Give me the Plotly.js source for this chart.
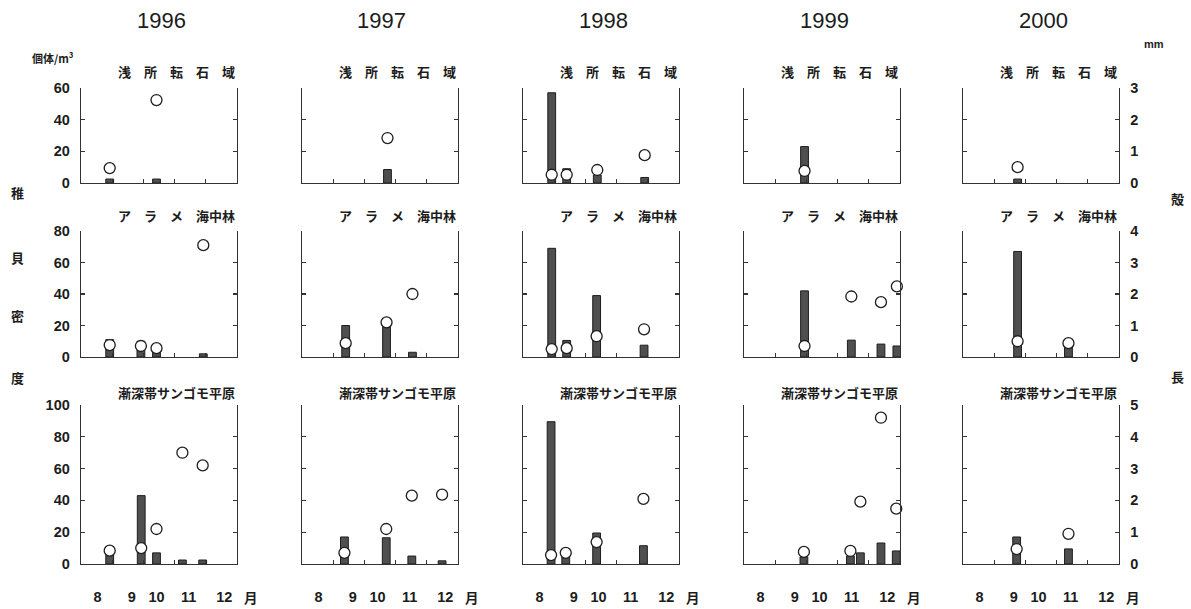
<!DOCTYPE html>
<html>
<head>
<meta charset="utf-8">
<script src="https://cdn.plot.ly/plotly-3.0.1.min.js"></script>
<style>
html,body{margin:0;padding:0;background:#fff;}
#chart{width:1191px;height:609px;}
</style>
</head>
<body>
<div id="chart"></div>
<script>
// ---------- data ----------
const years = ['1996', '1997', '1998', '1999', '2000'];
const habitats = ['浅　所　転　石　域', 'ア　ラ　メ　海中林', '漸深帯サンゴモ平原'];
const densityTicks = [[0, 20, 40, 60], [0, 20, 40, 60, 80], [0, 20, 40, 60, 80, 100]];
const lengthTicks = [[0, 1, 2, 3], [0, 1, 2, 3, 4], [0, 1, 2, 3, 4, 5]];
const monthLabels = ['8', '9', '10', '11', '12'];
const monthLabelPos = [8.53, 9.63, 10.42, 11.45, 12.59];
const monthBounds = [9, 10, 11, 12];
const monthUnit = '月';
const densityUnit = '個体/m³';
const lengthUnit = 'mm';
const leftTitleChars = ['稚', '貝', '密', '度'];
const rightTitleChars = ['殻', '長'];

// sampling dates (month + fraction), juvenile density (ind./m³), shell length (mm)
// each array: [浅所転石域, アラメ海中林, 漸深帯サンゴモ平原]
const date1996 = [[8.92, 10.42], [8.92, 9.92, 10.42, 11.92], [8.92, 9.93, 10.42, 11.25, 11.9]];
const dens1996 = [[2.5, 2.5], [11, 10, 3, 2], [6, 43, 7, 2.5, 2.5]];
const len1996 = [[0.47, 2.62], [0.38, 0.35, 0.28, 3.55], [0.42, 0.5, 1.1, 3.5, 3.1]];

const date1997 = [[10.74], [9.40, 10.71, 11.54], [9.36, 10.70, 11.52, 12.49]];
const dens1997 = [[8.5], [20, 19.5, 3], [17, 16.5, 5, 2]];
const len1997 = [[1.42], [0.44, 1.1, 2.0], [0.35, 1.1, 2.15, 2.18]];

const date1998 = [[8.92, 9.40, 10.38, 11.9], [8.92, 9.40, 10.36, 11.88], [8.9, 9.37, 10.36, 11.86]];
const dens1998 = [[57, 9, 5, 3.5], [69, 10.5, 39, 7.5], [89.5, 4.5, 19.5, 11.5]];
const len1998 = [[0.26, 0.26, 0.41, 0.88], [0.25, 0.28, 0.66, 0.88], [0.28, 0.35, 0.69, 2.05]];

const date1999 = [[9.94], [9.94, 11.44, 12.39, 12.9], [9.92, 11.41, 11.73, 12.39, 12.88]];
const dens1999 = [[23], [42, 10.7, 8.2, 7], [4.4, 5, 7, 13.2, 8.2]];
const len1999 = [[0.38], [0.35, 1.92, 1.74, 2.24], [0.38, 0.41, 1.96, 4.6, 1.74]];

const date2000 = [[9.75], [9.75, 11.38], [9.72, 11.38]];
const dens2000 = [[2.5], [67, 6.3], [17, 9.5]];
const len2000 = [[0.5], [0.5, 0.44], [0.47, 0.95]];

const allDates = [date1996, date1997, date1998, date1999, date2000];
const allDens = [dens1996, dens1997, dens1998, dens1999, dens2000];
const allLen = [len1996, len1997, len1998, len1999, len2000];

// ---------- layout geometry ----------
const W = 1191, H = 609;
const colLeft = [81, 302, 523, 744, 963];
const panelW = 156;
const rowTop = [88, 231, 405];
const rowBottom = [183, 357, 564];
const titleY = [72, 215, 392];

const ink = '#1c1c1c';
const lineCol = '#333';
const narrow = "'Liberation Sans Narrow', 'Arial Narrow', 'Liberation Sans', Arial, sans-serif";
const cjk = "'Noto Sans CJK JP', 'Noto Sans CJK SC', sans-serif";
const tickFont = {family: narrow, size: 14.5, color: ink, weight: 'bold'};

const px = v => v / W;
const py = v => 1 - v / H;

const traces = [];
const layout = {
  width: W, height: H,
  margin: {l: 0, r: 0, t: 0, b: 0},
  paper_bgcolor: '#fff', plot_bgcolor: 'rgba(0,0,0,0)',
  showlegend: false, hovermode: false,
  bargap: 0,
  annotations: []
};

const nPanels = 15;
let extraX = 2 * nPanels;
for (let r = 0; r < 3; r++) {
  for (let c = 0; c < 5; c++) {
    const n = r * 5 + c + 1;
    const m = n + nPanels;
    const xid = n === 1 ? 'x' : 'x' + n;
    const yid = n === 1 ? 'y' : 'y' + n;
    const y2id = 'y' + m;
    const xkey = n === 1 ? 'xaxis' : 'xaxis' + n;
    const ykey = n === 1 ? 'yaxis' : 'yaxis' + n;
    const y2key = 'yaxis' + m;
    const dTicks = densityTicks[r];
    const lTicks = lengthTicks[r];

    layout[xkey] = {
      domain: [px(colLeft[c]), px(colLeft[c] + panelW)],
      anchor: yid,
      range: [8, 13],
      showline: true, linecolor: lineCol, linewidth: 1.3,
      showgrid: false, zeroline: false,
      tickmode: 'array', tickvals: monthBounds,
      ticks: 'inside', ticklen: 4, tickwidth: 1.2, tickcolor: lineCol,
      showticklabels: false,
      fixedrange: true
    };
    if (r === 2) {
      extraX += 1;
      const lx = 'x' + extraX;
      layout['xaxis' + extraX] = {
        overlaying: xid,
        anchor: yid,
        side: 'bottom',
        range: [8, 13],
        showline: false, showgrid: false, zeroline: false,
        tickmode: 'array', tickvals: monthLabelPos, ticktext: monthLabels,
        ticks: '',
        showticklabels: true,
        ticklabelstandoff: 22,
        tickfont: tickFont,
        fixedrange: true
      };
      traces.push({type: 'scatter', mode: 'markers', x: [], y: [], xaxis: lx, yaxis: yid, hoverinfo: 'skip'});
    }
    layout[ykey] = {
      domain: [py(rowBottom[r]), py(rowTop[r])],
      anchor: xid,
      range: [0, dTicks[dTicks.length - 1]],
      showline: true, linecolor: lineCol, linewidth: 1.3,
      showgrid: false, zeroline: false,
      tickmode: 'array', tickvals: dTicks,
      ticks: 'inside', ticklen: 4, tickwidth: 1.2, tickcolor: lineCol,
      showticklabels: c === 0,
      ticklabelstandoff: 7,
      tickfont: tickFont,
      fixedrange: true
    };
    layout[y2key] = {
      overlaying: yid,
      anchor: xid,
      side: 'right',
      range: [0, lTicks[lTicks.length - 1]],
      showline: true, linecolor: lineCol, linewidth: 1.3,
      showgrid: false, zeroline: false,
      tickmode: 'array', tickvals: lTicks,
      ticks: 'inside', ticklen: 4, tickwidth: 1.2, tickcolor: lineCol,
      showticklabels: c === 4,
      ticklabelstandoff: 7,
      tickfont: tickFont,
      fixedrange: true
    };

    traces.push({
      type: 'bar',
      x: allDates[c][r], y: allDens[c][r],
      xaxis: xid, yaxis: yid,
      width: 0.25,
      marker: {color: '#4f4f4f', line: {color: '#1e1e1e', width: 1}},
      hoverinfo: 'skip'
    });
    traces.push({
      type: 'scatter', mode: 'markers',
      x: allDates[c][r], y: allLen[c][r],
      xaxis: xid, yaxis: y2id,
      cliponaxis: false,
      marker: {symbol: 'circle', size: 11, color: '#ffffff', line: {color: '#1e1e1e', width: 1.3}},
      hoverinfo: 'skip'
    });

    layout.annotations.push({
      text: habitats[r], xref: 'paper', yref: 'paper',
      x: px(colLeft[c] + panelW), y: py(titleY[r]),
      xanchor: 'right', yanchor: 'middle', showarrow: false,
      font: {family: cjk, size: 13, color: ink, weight: 'bold'}
    });
    if (r === 2) {
      layout.annotations.push({
        text: monthUnit, xref: 'paper', yref: 'paper',
        x: px(colLeft[c] + 170), y: py(597), xanchor: 'center', yanchor: 'middle', showarrow: false,
        font: {family: cjk, size: 13.5, color: ink, weight: 'bold'}
      });
    }
  }
}

years.forEach((yr, c) => {
  layout.annotations.push({
    text: yr, xref: 'paper', yref: 'paper',
    x: px(colLeft[c] + panelW / 2 + 2), y: py(21),
    xanchor: 'center', yanchor: 'middle', showarrow: false,
    font: {family: narrow, size: 22, color: ink}
  });
});

layout.annotations.push({
  text: densityUnit, xref: 'paper', yref: 'paper', x: px(30), y: py(58),
  xanchor: 'left', yanchor: 'middle', showarrow: false,
  font: {family: cjk, size: 11, color: ink, weight: 'bold'}
});
layout.annotations.push({
  text: lengthUnit, xref: 'paper', yref: 'paper', x: px(1154), y: py(44),
  xanchor: 'center', yanchor: 'middle', showarrow: false,
  font: {family: narrow, size: 11, color: ink, weight: 'bold'}
});

const leftY = [193, 257, 315, 377];
leftTitleChars.forEach((ch, i) => {
  layout.annotations.push({
    text: ch, xref: 'paper', yref: 'paper', x: px(17), y: py(leftY[i]),
    xanchor: 'center', yanchor: 'middle', showarrow: false,
    font: {family: cjk, size: 13, color: ink, weight: 'bold'}
  });
});
const rightY = [198, 376];
rightTitleChars.forEach((ch, i) => {
  layout.annotations.push({
    text: ch, xref: 'paper', yref: 'paper', x: px(1177), y: py(rightY[i]),
    xanchor: 'center', yanchor: 'middle', showarrow: false,
    font: {family: cjk, size: 13, color: ink, weight: 'bold'}
  });
});

Plotly.newPlot('chart', traces, layout, {staticPlot: true, displayModeBar: false});
</script>
</body>
</html>
